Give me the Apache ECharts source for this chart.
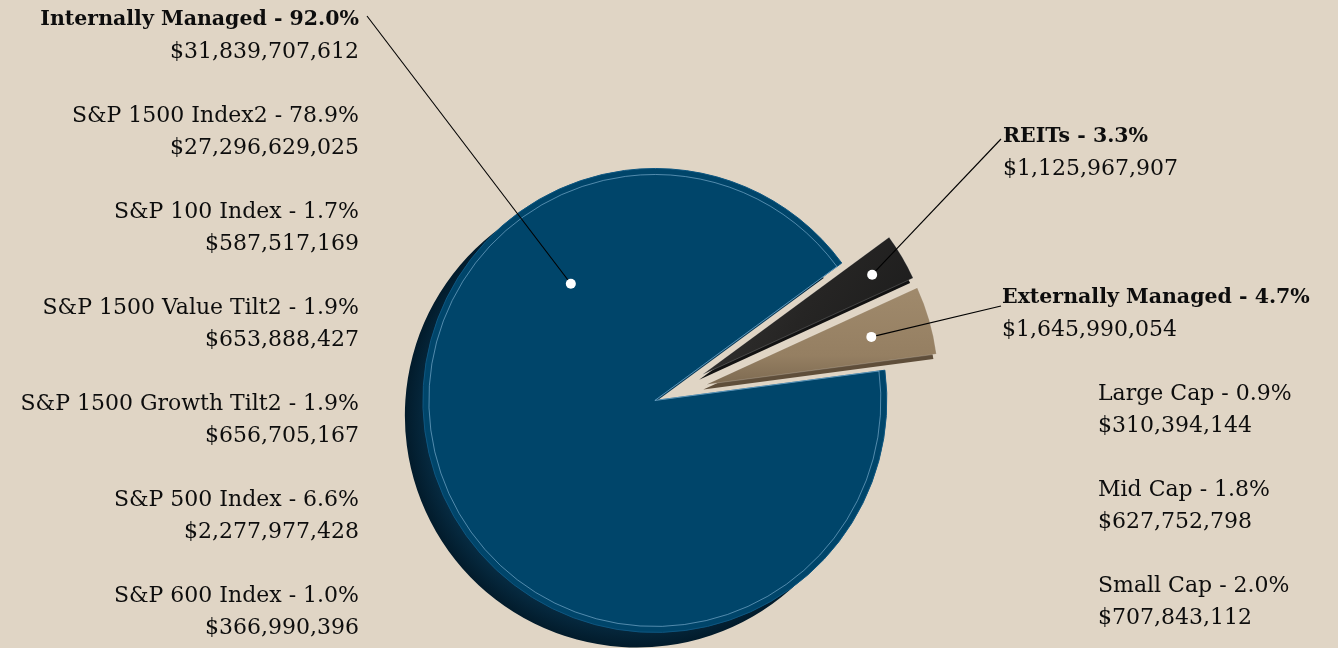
<!DOCTYPE html>
<html><head><meta charset="utf-8">
<script src="https://cdn.jsdelivr.net/npm/echarts@6/dist/echarts.min.js"></script>
<style>html,body{margin:0;padding:0;background:#E0D5C5;}#c{width:1338px;height:648px;}</style>
</head><body><div id="c"></div>
<script>
// ---- data ----
const categories = ['Internally Managed', 'REITs', 'Externally Managed'];
const amounts = [31839707612, 1125967907, 1645990054];
const percents = [92.0, 3.3, 4.7];
const internalNames = ['S&P 1500 Index2', 'S&P 100 Index', 'S&P 1500 Value Tilt2', 'S&P 1500 Growth Tilt2', 'S&P 500 Index', 'S&P 600 Index'];
const internalPercents = [78.9, 1.7, 1.9, 1.9, 6.6, 1.0];
const internalAmounts = [27296629025, 587517169, 653888427, 656705167, 2277977428, 366990396];
const externalNames = ['Large Cap', 'Mid Cap', 'Small Cap'];
const externalPercents = [0.9, 1.8, 2.0];
const externalAmounts = [310394144, 627752798, 707843112];

// ---- layout / style ----
const FONT = '"DejaVu Serif", "Liberation Serif", serif';
const C = [666, 396], R = 232, START = 7.5;
const MAIN_OFF = 12, SMALL_OFF = 42;
const faceColors = ['#00456A',
  {type:'linear',x:0,y:0,x2:1,y2:1,colorStops:[{offset:0,color:'#3a3938'},{offset:0.5,color:'#262524'},{offset:1,color:'#1a1a1a'}]},
  {type:'linear',x:0,y:0,x2:0,y2:1,colorStops:[{offset:0,color:'#a08a6c'},{offset:0.7,color:'#957F62'},{offset:1,color:'#7d6a51'}]}];
const rimColors = [
  {type:'radial',x:0.5,y:0.5,r:0.5,colorStops:[{offset:0.8,color:'#0b3b58'},{offset:1,color:'#021b2b'}]},
  '#121212', '#5f4e3a'];
// label blocks: text anchor x, centre of first line y, alignment, leader-line end
const labelPos = [
  {x: 359, y: 20, align: 'right', end: [367, 16]},
  {x: 1003, y: 137, align: 'left', end: [1001, 139]},
  {x: 1002, y: 298, align: 'left', end: [1001, 306]}
];
// anchor dot: fraction along slice angle, fraction of radius
const anchorSpec = [[0.73, 0.62], [0.5, 0.85], [0.5, 0.74]];

const money = v => '$' + v.toLocaleString('en-US');
const TRANSPARENT = 'rgba(0,0,0,0)';

function makeData(visible, colors, extra) {
  return categories.map((name, i) => ({
    name, value: amounts[i], selected: true,
    itemStyle: visible[i] ? Object.assign({color: colors[i]}, extra || {}) : {color: TRANSPARENT, borderWidth: 0, borderColor: TRANSPARENT}
  }));
}
function basePie(over) {
  return Object.assign({
    type: 'pie', radius: R, center: C, startAngle: START, clockwise: true,
    selectedMode: 'multiple', avoidLabelOverlap: false, animation: false,
    label: {show: false}, labelLine: {show: false},
    emphasis: {disabled: true}, tooltip: {show: false}
  }, over);
}

const series = [
  basePie({name: 'rimSmall', center: [C[0] - 3, C[1] + 5], selectedOffset: SMALL_OFF,
    data: makeData([false, true, true], rimColors)}),
  basePie({name: 'rimMain', center: [C[0] - 18, C[1] + 15], selectedOffset: MAIN_OFF,
    data: makeData([true, false, false], rimColors)}),
  basePie({name: 'faceSmall', selectedOffset: SMALL_OFF,
    data: makeData([false, true, true], faceColors, {borderColor: 'rgba(255,255,255,0.18)', borderWidth: 1})}),
  basePie({name: 'faceMain', selectedOffset: MAIN_OFF,
    data: makeData([true, false, false], faceColors, {borderColor: '#0e5680', borderWidth: 1})}),
  basePie({name: 'ring', radius: R - 6, selectedOffset: MAIN_OFF, silent: true,
    data: makeData([true, false, false], [TRANSPARENT], {borderColor: 'rgba(150,195,225,0.55)', borderWidth: 1})})
];

const chart = echarts.init(document.getElementById('c'), null, {renderer: 'canvas'});
chart.setOption({backgroundColor: '#E0D5C5', animation: false, series});

const graphics = [];
function textEl(x, y, text, align, bold) {
  return {type: 'text', x, y, silent: true, z: 110,
    style: {text, font: `${bold ? 'bold 20.5px' : '22px'} ${FONT}`, fill: '#0d0d0d',
      align, textAlign: align, verticalAlign: 'middle', textVerticalAlign: 'middle'}};
}
// main category labels
categories.forEach((n, i) => {
  const p = labelPos[i];
  graphics.push(textEl(p.x, p.y, `${n} - ${percents[i].toFixed(1)}%`, p.align, true));
  graphics.push(textEl(p.x, p.y + 32, money(amounts[i]), p.align, false));
});
// sub-item text columns
internalNames.forEach((n, i) => {
  graphics.push(textEl(359, 116 + i * 96, `${n} - ${internalPercents[i].toFixed(1)}%`, 'right', false));
  graphics.push(textEl(359, 148 + i * 96, money(internalAmounts[i]), 'right', false));
});
externalNames.forEach((n, i) => {
  graphics.push(textEl(1098, 394 + i * 96, `${n} - ${externalPercents[i].toFixed(1)}%`, 'left', false));
  graphics.push(textEl(1098, 426 + i * 96, money(externalAmounts[i]), 'left', false));
});

// leader lines and dots anchored on slice geometry from the library layout
function sliceLayout(seriesIdx, i) {
  try {
    const lay = chart.getModel().getSeriesByIndex(seriesIdx).getData().getItemLayout(i);
    if (lay && isFinite(lay.cx)) return lay;
  } catch (e) {}
  const total = amounts.reduce((a, b) => a + b, 0);
  let a = -START * Math.PI / 180;
  for (let k = 0; k < i; k++) a += amounts[k] / total * Math.PI * 2;
  return {cx: C[0], cy: C[1], r: R, startAngle: a, endAngle: a + amounts[i] / total * Math.PI * 2};
}
[0, 1, 2].forEach(i => {
  const sIdx = i === 0 ? 3 : 2;
  const off = i === 0 ? MAIN_OFF : SMALL_OFF;
  const L = sliceLayout(sIdx, i);
  const mid = (L.startAngle + L.endAngle) / 2;
  const cx = L.cx + Math.cos(mid) * off, cy = L.cy + Math.sin(mid) * off;
  const a = L.startAngle + anchorSpec[i][0] * (L.endAngle - L.startAngle);
  const px = cx + Math.cos(a) * L.r * anchorSpec[i][1];
  const py = cy + Math.sin(a) * L.r * anchorSpec[i][1];
  graphics.push({type: 'line', silent: true, z: 100,
    shape: {x1: px, y1: py, x2: labelPos[i].end[0], y2: labelPos[i].end[1]},
    style: {stroke: '#000', lineWidth: 1.1}});
  graphics.push({type: 'circle', silent: true, z: 101,
    shape: {cx: px, cy: py, r: 5}, style: {fill: '#fff'}});
});
chart.setOption({graphic: graphics});
</script></body></html>
